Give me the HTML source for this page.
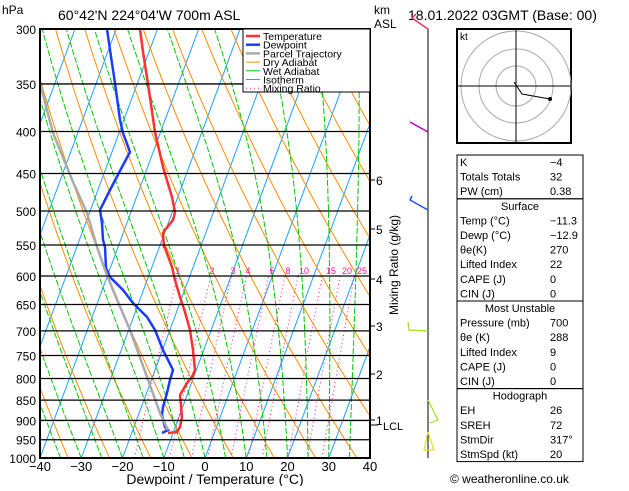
<!DOCTYPE html><html><head><meta charset="utf-8"><style>
body{margin:0;background:#fff;width:629px;height:486px;overflow:hidden;font-family:"Liberation Sans",sans-serif}
svg text{font-family:"Liberation Sans",sans-serif}
</style></head><body>
<svg id="s" width="629" height="486" xmlns="http://www.w3.org/2000/svg"></svg>
<script>
const S=document.getElementById('s');let h='';
const X0=40,X1=370,Y0=29,Y1=458;
const Y=p=>Y0+Math.log(p/300)/Math.log(1000/300)*(Y1-Y0);
const X=(T,y)=>X0+(T+40)*4.125+0.37*(Y1-y);
function pl(pts,c,w,d){h+=`<polyline fill="none" stroke="${c}" stroke-width="${w}" ${d?`stroke-dasharray="${d}"`:''} points="${pts.map(a=>a[0].toFixed(1)+','+a[1].toFixed(1)).join(' ')}"/>`;}
h+='<defs><clipPath id="c"><rect x="40" y="29" width="330" height="429"/></clipPath></defs><g clip-path="url(#c)">';
// isotherms
for(let T=-120;T<=40;T+=10){pl([[X(T,Y1),Y1],[X(T,Y0),Y0]],'#1ea0ff',1);}
// dry adiabats
for(let th=200;th<=480;th+=10){let a=[];for(let p=1000;p>=300;p-=10){let y=Y(p);a.push([X(th*Math.pow(p/1000,0.286)-273.15,y),y]);}pl(a,'#ff8c00',1);}
// wet adiabats
function es(T){return 6.112*Math.exp(17.67*T/(T+243.5));}
for(let T0=-40;T0<=40;T0+=5){let T=T0,a=[];for(let p=1000;p>=300;p-=5){let y=Y(p);a.push([X(T,y),y]);let Tk=T+273.15,e=es(T),r=0.622*e/(p-e),L=2.5e6;
let g=(0.286*Tk+L*r/1004)/(p*(1+L*L*r*0.622/(1004*287*Tk*Tk)));T-=g*5;}pl(a,'#00c800',1,'6,2');}
// mixing ratio
const mr=[1,2,3,4,6,8,10,15,20,25];
for(const w of mr){let a=[];for(let p=1000;p>=600;p-=10){let e=w*p/(622+w),l=Math.log(e/6.112),T=243.5*l/(17.67-l),y=Y(p);a.push([X(T,y),y]);}pl(a,'#ff1493',1,'1,3');}
h+='</g>';
// data
pl([[140,29],[143,52],[148,84],[155,132],[163,167],[172,197],[175,212],[173,220],[165,230],[163,233],[164,247],[165,248],[172,267],[175,280],[180,297],[185,312],[190,330],[193,350],[195,370],[192,377],[187,383],[180,395],[182,417],[180,427],[177,432],[168,433]],'#ff3030',2.5);
pl([[107,29],[110,50],[115,83],[120,120],[123,133],[130,152],[122,167],[110,190],[100,210],[102,223],[103,240],[105,247],[106,268],[110,277],[123,290],[133,303],[147,317],[155,330],[163,350],[173,370],[170,380],[167,393],[163,407],[162,415],[165,427],[168,430],[162,433]],'#1a3cff',2.5);
pl([[40,83],[53,133],[73,182],[87,213],[97,247],[105,270],[113,290],[130,330],[147,377],[160,413],[168,430]],'#aaaaaa',2.5);
// pressure lines
for(let p=300;p<=1000;p+=50){let y=Y(p);h+=`<line x1="40" x2="370" y1="${y}" y2="${y}" stroke="#000" stroke-width="1.3"/><text x="36" y="${y+5}" font-size="12" text-anchor="end">${p}</text>`;}
h+='<rect x="40" y="29" width="330" height="429" fill="none" stroke="#000" stroke-width="2"/>';
for(let T=-40;T<=40;T+=10){h+=`<text x="${X0+(T+40)*4.125}" y="471" font-size="13" text-anchor="middle">${T<0?'−'+(-T):T}</text>`;}
h+='<text x="215" y="484" font-size="14" text-anchor="middle">Dewpoint / Temperature (°C)</text>';
const ml=[[1,178],[2,212],[3,233],[4,248],[5,272],[8,288],[10,304],[15,331],[20,347],[25,362]];
for(const [v,x] of ml)h+=`<text x="${x}" y="274" font-size="9" fill="#ff1493" text-anchor="middle">${v}</text>`;
// legend
h+='<rect x="243" y="29" width="127" height="63" fill="#fff" stroke="#000"/>';
const lg=[['Temperature','#ff3030',2.5],['Dewpoint','#1a3cff',2.5],['Parcel Trajectory','#aaa',2.5],['Dry Adiabat','#ff8c00',1],['Wet Adiabat','#00c800',1],['Isotherm','#1ea0ff',1],['Mixing Ratio','#ff1493',1]];
lg.forEach((l,i)=>{let y=36+i*8.7;h+=`<line x1="246" x2="260" y1="${y}" y2="${y}" stroke="${l[1]}" stroke-width="${l[2]}" ${i==6?'stroke-dasharray="1,3"':''}/><text x="263" y="${y+4}" font-size="10.5">${l[0]}</text>`;});
// titles
h+='<text x="2" y="14" font-size="12">hPa</text><text x="58" y="20" font-size="14">60°42\'N  224°04\'W  700m  ASL</text>';
h+='<text x="374" y="14" font-size="12">km</text><text x="374" y="28" font-size="12">ASL</text>';
h+='<text x="408" y="20" font-size="14">18.01.2022  03GMT  (Base: 00)</text>';
[[6,180],[5,229],[4,279],[3,326],[2,374],[1,420]].forEach(a=>{h+=`<line x1="370" x2="375" y1="${a[1]}" y2="${a[1]}" stroke="#000"/><text x="376" y="${a[1]+5}" font-size="12">${a[0]}</text>`;});
h+='<line x1="370" x2="378" y1="425" y2="425" stroke="#000"/><text x="383" y="430" font-size="11">LCL</text>';
h+='<text transform="translate(398,265) rotate(-90)" font-size="12" text-anchor="middle">Mixing Ratio (g/kg)</text>';
// wind barbs
h+='<line x1="428" y1="29" x2="428" y2="458" stroke="#000"/>';
h+='<polyline fill="none" stroke="#ff3060" stroke-width="1.5" points="428,29 412,18 416,14"/><polyline fill="none" stroke="#c000c0" stroke-width="1.5" points="428,132 410,122"/><polyline fill="none" stroke="#2050ff" stroke-width="1.5" points="428,210 410,200 412,196"/><polyline fill="none" stroke="#a0e020" stroke-width="1.2" points="428,331 409,330 408,322"/><polyline fill="none" stroke="#a0e020" stroke-width="1.2" points="428,400 438,420 430,423"/><polyline fill="none" stroke="#e0e020" stroke-width="1.2" points="428,432 424,450 434,450 428,432"/>';
// hodograph
h+='<rect x="457" y="29" width="114" height="114" fill="#fff" stroke="#000" stroke-width="2"/><text x="460" y="40" font-size="10">kt</text>';
[20,37,55].forEach(r=>h+=`<circle cx="516" cy="86" r="${r}" fill="none" stroke="#aaa"/>`);
h+='<line x1="458" x2="570" y1="86" y2="86" stroke="#000"/><line x1="516" x2="516" y1="30" y2="142" stroke="#000"/><polyline fill="none" stroke="#000" points="514,82 522,94 550,99"/><circle cx="550" cy="99" r="2"/>';
// table
let ty=155;const rows=[[['K','−4'],['Totals Totals','32'],['PW (cm)','0.38']],[['Surface'],['Temp (°C)','−11.3'],['Dewp (°C)','−12.9'],['θe(K)','270'],['Lifted Index','22'],['CAPE (J)','0'],['CIN (J)','0']],[['Most Unstable'],['Pressure (mb)','700'],['θe (K)','288'],['Lifted Index','9'],['CAPE (J)','0'],['CIN (J)','0']],[['Hodograph'],['EH','26'],['SREH','72'],['StmDir','317°'],['StmSpd (kt)','20']]];
rows.forEach(sec=>{let y0=ty;sec.forEach(r=>{if(r.length==1)h+=`<text x="520" y="${ty+11}" font-size="11" text-anchor="middle">${r[0]}</text>`;else h+=`<text x="460" y="${ty+11}" font-size="11">${r[0]}</text><text x="550" y="${ty+11}" font-size="11">${r[1]}</text>`;ty+=14.6;});h+=`<rect x="457" y="${y0}" width="126" height="${ty-y0}" fill="none" stroke="#000"/>`;});
h+='<text x="450" y="483" font-size="12">© weatheronline.co.uk</text>';
S.innerHTML=h;
</script></body></html>
